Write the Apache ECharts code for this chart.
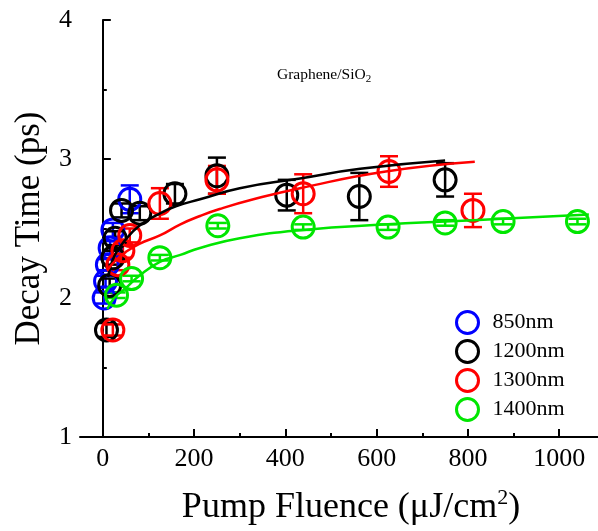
<!DOCTYPE html>
<html lang="en">
<head>
  <meta charset="UTF-8">
  <title>Decay Time vs Pump Fluence</title>
  <script src="https://cdn.jsdelivr.net/npm/echarts@6/dist/echarts.min.js"></script>
  <style>
    html, body { margin: 0; padding: 0; background: #fff; }
    #main { width: 598px; height: 531px; }
  </style>
</head>
<body>
  <div id="main"></div>
  <script type="text/javascript">
    // 数据点 (x: 泵浦通量, y: 衰减时间, err: 误差)
    var names = ['850nm', '1200nm', '1300nm', '1400nm'];
    var colors = ['#0000ff', '#000000', '#ff0000', '#00e600'];

    var x850 = [3, 6, 10, 16, 22, 59];
    var y850 = [2.0, 2.12, 2.24, 2.36, 2.49, 2.71];
    var e850 = [0.04, 0.04, 0.04, 0.05, 0.05, 0.1];

    var x1200 = [8, 15, 22, 27, 41, 81, 158, 250, 403, 562, 750];
    var y1200 = [1.77, 2.09, 2.29, 2.43, 2.63, 2.61, 2.75, 2.88, 2.74, 2.73, 2.85];
    var e1200 = [0.05, 0.05, 0.05, 0.05, 0.05, 0.05, 0.07, 0.13, 0.11, 0.17, 0.12];

    var x1300 = [22, 33, 44, 59, 125, 250, 439, 627, 811];
    var y1300 = [1.77, 2.24, 2.34, 2.45, 2.68, 2.85, 2.75, 2.91, 2.63];
    var e1300 = [0.04, 0.04, 0.05, 0.05, 0.11, 0.1, 0.14, 0.11, 0.12];

    var x1400 = [30, 63, 125, 252, 439, 625, 750, 877, 1040];
    var y1400 = [2.02, 2.14, 2.29, 2.52, 2.51, 2.51, 2.54, 2.55, 2.55];
    var e1400 = [0.02, 0.02, 0.02, 0.02, 0.02, 0.02, 0.02, 0.02, 0.02];

    // 拟合曲线
    var fitX1200 = [12, 25, 50, 80, 120, 160, 213, 300, 432, 564, 750];
    var fitY1200 = [2.15, 2.3, 2.42, 2.52, 2.6, 2.66, 2.71, 2.79, 2.86, 2.93, 2.99];
    var fitX1300 = [10, 25, 50, 80, 125, 170, 213, 256, 330, 432, 620, 815];
    var fitY1300 = [2.2, 2.26, 2.33, 2.39, 2.45, 2.53, 2.59, 2.64, 2.71, 2.79, 2.91, 2.98];
    var fitX1400 = [10, 25, 50, 80, 125, 170, 213, 300, 440, 625, 750, 875, 1065];
    var fitY1400 = [1.92, 2.0, 2.07, 2.16, 2.26, 2.31, 2.36, 2.43, 2.49, 2.53, 2.55, 2.57, 2.6];

    // 坐标轴刻度
    var xMajor = [0, 200, 400, 600, 800, 1000];
    var xMinor = [100, 300, 500, 700, 900];

    var xs = [x850, x1200, x1300, x1400];
    var ys = [y850, y1200, y1300, y1400];
    var es = [e850, e1200, e1300, e1400];
    var fits = [null, [fitX1200, fitY1200], [fitX1300, fitY1300], [fitX1400, fitY1400]];

    var font = "'Liberation Serif', 'DejaVu Serif', serif";

    function zip(a, b) {
      return a.map(function (v, i) { return [v, b[i]]; });
    }

    function errBar(color) {
      return function (params, api) {
        var x = api.value(0);
        var p1 = api.coord([x, api.value(2)]);
        var p2 = api.coord([x, api.value(1)]);
        var w = 9;
        var st = { stroke: color, lineWidth: 2.5 };
        return {
          type: 'group',
          children: [
            { type: 'line', shape: { x1: p1[0], y1: p1[1], x2: p2[0], y2: p2[1] }, style: st },
            { type: 'line', shape: { x1: p1[0] - w, y1: p1[1], x2: p1[0] + w, y2: p1[1] }, style: st },
            { type: 'line', shape: { x1: p2[0] - w, y1: p2[1], x2: p2[0] + w, y2: p2[1] }, style: st }
          ]
        };
      };
    }

    var series = [];
    names.forEach(function (n, k) {
      series.push({
        name: n + '_err',
        type: 'custom',
        renderItem: errBar(colors[k]),
        encode: { x: 0, y: [1, 2] },
        data: xs[k].map(function (v, i) { return [v, ys[k][i] - es[k][i], ys[k][i] + es[k][i]]; }),
        z: 2
      });
      series.push({
        name: n,
        type: 'scatter',
        symbol: 'circle',
        symbolSize: 22,
        itemStyle: { color: 'rgba(0,0,0,0)', borderColor: colors[k], borderWidth: 3, opacity: 1 },
        data: zip(xs[k], ys[k]),
        z: 3
      });
      if (fits[k]) {
        series.push({
          name: n + '_fit',
          type: 'line',
          smooth: true,
          showSymbol: false,
          symbol: 'none',
          lineStyle: { color: colors[k], width: 2.5 },
          data: zip(fits[k][0], fits[k][1]),
          z: 4
        });
      }
    });

    var myChart = echarts.init(document.getElementById('main'));

    var option = {
      backgroundColor: '#fff',
      animation: false,
      title: {
        text: '{a|Graphene/SiO}{s|2}',
        left: 272,
        top: 59,
        textStyle: {
          rich: {
            a: { fontFamily: font, fontSize: 15.5, color: '#000', fontWeight: 'normal' },
            s: { fontFamily: font, fontSize: 11, color: '#000', fontWeight: 'normal', verticalAlign: 'bottom', padding: [10, 0, 0, 0] }
          }
        }
      },
      grid: { left: 80, right: 0, top: 20, bottom: 90 },
      legend: {
        orient: 'vertical',
        left: 450,
        top: 305,
        itemWidth: 24,
        itemHeight: 22,
        itemGap: 4,
        icon: 'circle',
        textStyle: { fontFamily: font, fontSize: 22, color: '#000', padding: [0, 0, 0, 8] },
        data: names.map(function (n, k) {
          return { name: n, itemStyle: { color: 'rgba(0,0,0,0)', borderColor: colors[k], borderWidth: 3 } };
        })
      },
      xAxis: [{
        type: 'value',
        min: -50,
        max: 1085,
        name: '{a|Pump Fluence (μJ/cm}{s|2}{a|)}',
        nameLocation: 'middle',
        nameGap: 50,
        nameTextStyle: {
          padding: [0, 0, 0, 24],
          rich: {
            a: { fontFamily: font, fontSize: 36, color: '#000' },
            s: { fontFamily: font, fontSize: 22, color: '#000', verticalAlign: 'top', padding: [0, 0, 20, 0] }
          }
        },
        axisLine: { lineStyle: { color: '#000', width: 2 } },
        axisTick: { inside: true, length: 8, customValues: xMajor, lineStyle: { color: '#000', width: 2 } },
        axisLabel: {
          customValues: xMajor,
          fontFamily: font, fontSize: 26, color: '#000', margin: 9,
          formatter: function (v) { return String(v); }
        },
        splitLine: { show: false }
      }, {
        type: 'value',
        position: 'bottom',
        min: -50,
        max: 1085,
        axisLine: { show: false },
        axisTick: { inside: true, length: 4, customValues: xMinor, lineStyle: { color: '#000', width: 2 } },
        axisLabel: { show: false },
        splitLine: { show: false }
      }],
      yAxis: {
        type: 'value',
        min: 1,
        max: 4,
        interval: 1,
        name: 'Decay Time (ps)',
        nameLocation: 'middle',
        nameRotate: 90,
        nameGap: 33,
        nameTextStyle: { fontFamily: font, fontSize: 35, color: '#000' },
        axisLine: { show: true, lineStyle: { color: '#000', width: 2 } },
        axisTick: { show: true, inside: true, length: 8, lineStyle: { color: '#000', width: 2 } },
        minorTick: { show: true, splitNumber: 2, length: 4, lineStyle: { color: '#000', width: 2 } },
        axisLabel: { fontFamily: font, fontSize: 26, color: '#000', margin: 8 },
        splitLine: { show: false }
      },
      series: series
    };

    myChart.setOption(option);
  </script>
</body>
</html>
